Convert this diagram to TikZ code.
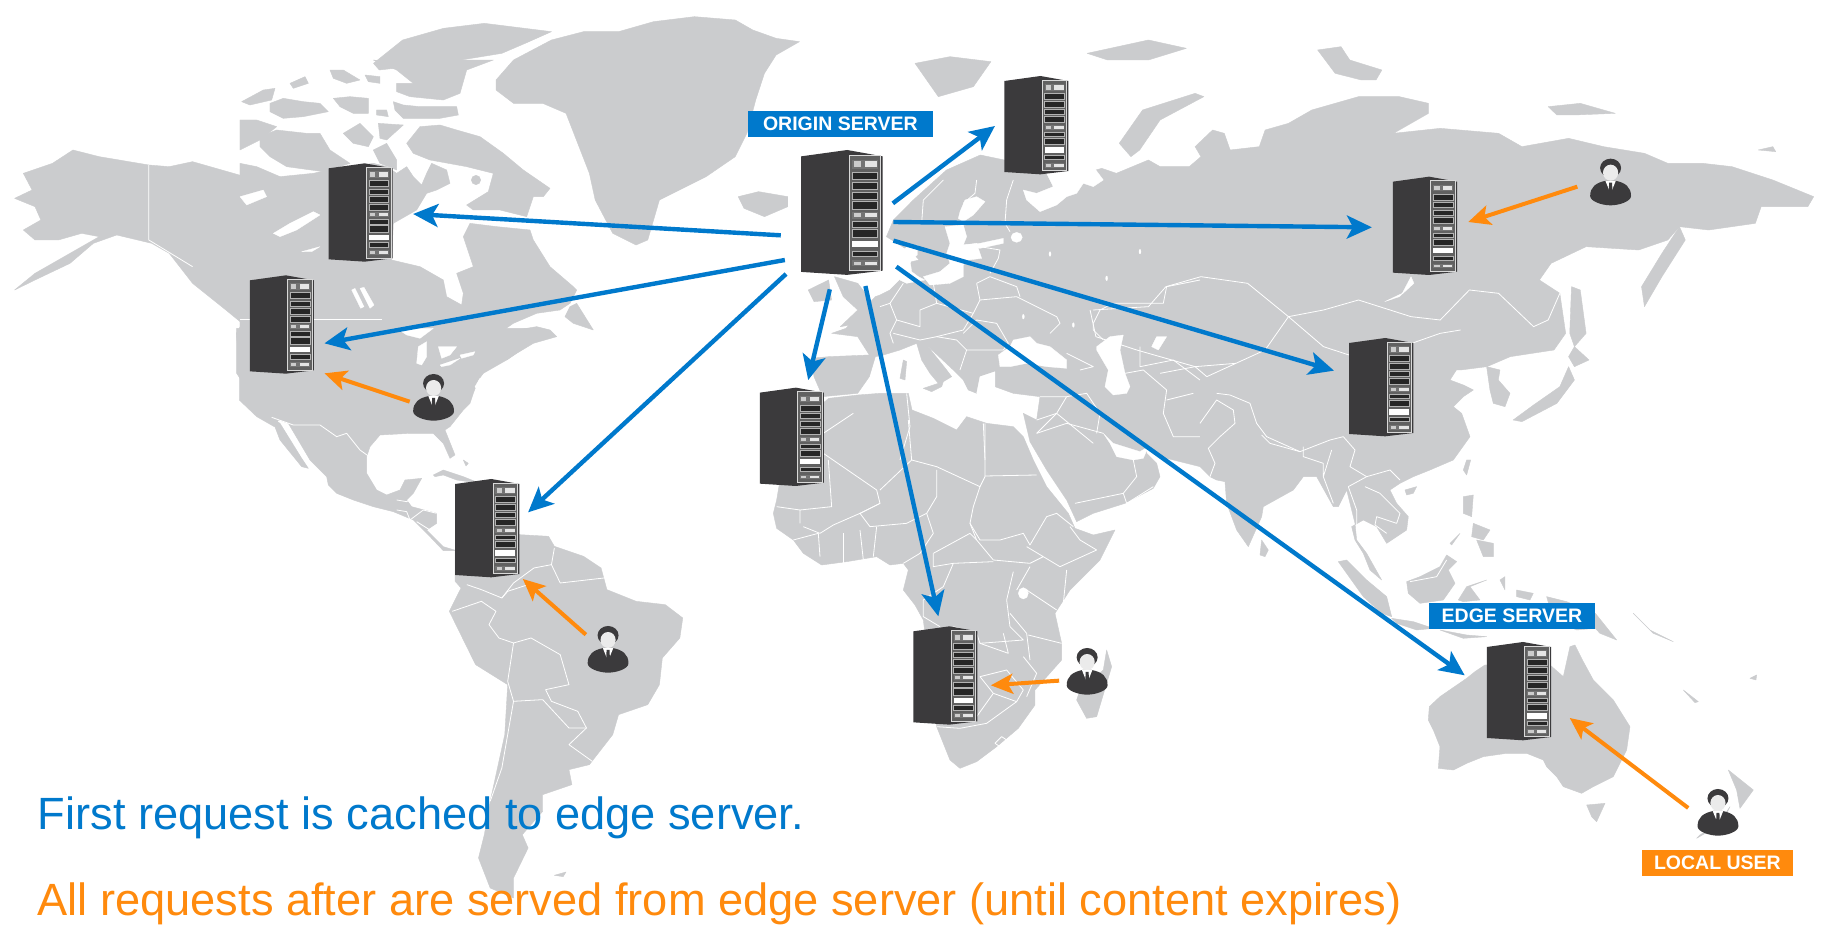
\documentclass[tikz,border=0pt]{standalone}
\usepackage{fontspec}
\setmainfont{Liberation Sans}
\usetikzlibrary{arrows.meta}
\definecolor{landgray}{HTML}{CBCCCE}
\definecolor{srvdark}{HTML}{3B3A3C}
\definecolor{cdnblue}{HTML}{0079CC}
\definecolor{cdnorange}{HTML}{FF8A0D}
\tikzset{
  land/.style={fill=landgray,draw=landgray,line width=0.4pt,line join=round},
  sea/.style={fill=white,draw=white,line width=0.3pt,line join=round},
  border/.style={draw=white,line width=0.8pt,line join=round},
  cropA/.style={x=0.33333pt,y=-0.33333pt,shift={(880pt,-180pt)}},
  cropB/.style={x=0.33333pt,y=-0.33333pt,shift={(760pt,-400pt)}},
  cropC/.style={x=0.33333pt,y=-0.33333pt,shift={(1200pt,-380pt)}},
  cropD/.style={x=0.33333pt,y=-0.33333pt,shift={(1400pt,-590pt)}},
  cropE/.style={x=0.33333pt,y=-0.33333pt,shift={(240pt,-60pt)}},
  cropF/.style={x=0.33333pt,y=-0.33333pt,shift={(230pt,-330pt)}},
  originarrow/.style={draw=cdnblue,line width=4.4pt,-{Stealth[length=25pt,width=23pt,inset=6pt]}},
  userarrow/.style={draw=cdnorange,line width=4pt,-{Stealth[length=22pt,width=20pt,inset=5pt]}},
  tagbox/.style={text=white,font=\fontsize{19.5}{21}\selectfont\bfseries,minimum height=26pt,inner sep=0pt},
  bluetag/.style={tagbox,fill=cdnblue},
  orangetag/.style={tagbox,fill=cdnorange},
  caption/.style={font=\fontsize{45.2}{50}\selectfont,anchor=base west,inner sep=0pt},
  server/.pic={
    \fill[srvdark] (0,15)--(62,0)--(110,15)--(110,285)--(62,295)--(0,288)--cycle;
    \fill[black!62] (65,12) rectangle (107,284);
    \draw[white!85!black,line width=0.9pt] (65,12) rectangle (107,284);
    \foreach \a/\b in {52/70,77/93,100/116,122/140,169/182,187/206,238/251}
      \filldraw[fill=black!85,draw=white!70!black,line width=0.4pt] (69,\a) rectangle (103,\b);
    \foreach \a/\b in {24/44,147/162,261/275}{
      \fill[black!55] (69,\a) rectangle (103,\b);
      \fill[white!90!black] (86,\a+3) rectangle (102,\b-3);
      \fill[white!80!black] (71,\a+3) rectangle (80,\b-3);
    }
    \fill[white] (69,214) rectangle (103,230);
  },
  person/.pic={
    \fill[srvdark] (-35,112) .. controls (-35,85) and (-25,72) .. (-8,66) -- (8,66) .. controls (25,72) and (35,85) .. (35,112) .. controls (35,128) and (15,140) .. (0,140) .. controls (-15,140) and (-35,128) .. (-35,112) -- cycle;
    \fill[srvdark] (0,28) ellipse [x radius=18,y radius=28];
    \fill[white!92!black] (0,42) ellipse [x radius=13,y radius=24];
    \fill[white] (-9,66) -- (9,66) -- (0,105) -- cycle;
    \fill[srvdark] (-2.5,72) -- (2.5,72) -- (3.5,110) -- (0,120) -- (-3.5,110) -- cycle;
  }
}
\begin{document}
\begin{tikzpicture}[x=0.58355pt,y=-0.33333pt]
\useasboundingbox (0,0) rectangle (3136,2808);
\fill[white] (0,0) rectangle (3136,2808);
% --- Alaska and western North America
\fill[land] plot coordinates {(25,595)(55,570)(40,520)(90,490)(125,450)(170,470)(255,495)(290,500)(330,485)(380,510)(440,540)(600,700)(600,1100)(500,1200)(470,1280)(440,1250)(410,1200)(410,1100)(405,1000)(415,970)(380,920)(330,850)(290,760)(260,730)(200,705)(160,730)(120,790)(60,840)(25,870)(60,820)(110,770)(170,710)(140,700)(100,720)(60,720)(40,690)(70,660)(60,620)} -- cycle;
\fill[land] plot coordinates {(850,240)(880,180)(945,120)(1000,95)(1060,95)(1120,65)(1190,50)(1260,60)(1290,90)(1330,115)(1370,125)(1330,165)(1310,220)(1295,300)(1280,400)(1260,470)(1210,530)(1130,600)(1110,720)(1090,735)(1050,700)(1020,600)(1010,520)(990,430)(970,340)(930,310)(880,310)(850,270)} -- cycle;
\fill[land] plot coordinates {(640,190)(690,120)(760,85)(830,70)(945,95)(900,130)(860,160)(790,180)(750,190)(700,200)(650,210)} -- cycle;
\fill[land] plot coordinates {(1265,590)(1300,575)(1350,590)(1350,620)(1310,650)(1275,625)} -- cycle;
\draw[border] plot coordinates {(255,495)(255,720)(330,800)};
% --- Canada
\begin{scope}[cropE]
\fill[land] plot coordinates {(0,310)(50,320)(120,350)(220,340)(265,330)(400,310)(440,320)(470,340)(500,320)(520,350)(545,375)(560,340)(575,310)(620,330)(630,370)(590,390)(560,400)(530,450)(460,490)(455,600)(540,620)(610,660)(620,710)(665,735)(670,700)(650,640)(700,620)(680,560)(670,530)(690,490)(770,500)(870,510)(880,540)(930,620)(1000,680)(1010,690)(990,730)(960,750)(890,760)(820,790)(720,860)(720,900)(0,900)} -- cycle;
\fill[land] plot coordinates {(500,250)(540,200)(600,195)(650,210)(720,230)(790,280)(850,330)(930,385)(910,410)(880,410)(860,470)(780,450)(700,450)(680,435)(745,395)(760,340)(680,320)(570,300)(520,280)} -- cycle;
\fill[land] (708,360) circle [radius=14];
\fill[land] plot coordinates {(990,740)(1010,730)(1060,810)(1000,790)(975,770)} -- cycle;
\fill[land] plot coordinates {(780,860)(830,810)(890,800)(930,810)(950,830)(880,850)(830,880)(800,900)} -- cycle;
\fill[land] plot coordinates {(60,230)(110,210)(200,220)(240,220)(270,270)(330,310)(250,335)(140,320)(90,290)(60,260)} -- cycle;
\fill[land] plot coordinates {(0,180)(50,180)(110,200)(60,240)(0,270)} -- cycle;
\fill[land] plot coordinates {(310,220)(360,190)(400,230)(385,260)(340,250)} -- cycle;
\fill[land] plot coordinates {(415,190)(490,195)(440,240)(420,235)} -- cycle;
\fill[land] plot coordinates {(400,270)(440,250)(470,300)(470,330)(420,310)} -- cycle;
\fill[land] plot coordinates {(5,125)(70,90)(105,85)(95,120)(30,135)} -- cycle;
\fill[land] plot coordinates {(90,130)(130,115)(190,125)(240,130)(265,155)(190,170)(130,175)(90,155)} -- cycle;
\fill[land] plot coordinates {(280,115)(330,110)(385,115)(385,160)(340,160)(300,140)} -- cycle;
\fill[land] plot coordinates {(410,150)(440,150)(445,170)(410,165)} -- cycle;
\fill[land] plot coordinates {(460,125)(490,135)(540,140)(650,140)(655,165)(600,175)(490,175)(465,150)} -- cycle;
\fill[land] plot coordinates {(270,30)(310,30)(360,60)(320,70)(280,55)} -- cycle;
\fill[land] plot coordinates {(375,45)(420,50)(420,70)(385,65)} -- cycle;
\fill[land] plot coordinates {(400,0)(480,10)(530,0)(760,0)(680,30)(660,100)(610,120)(510,110)(470,95)(470,70)(520,70)(470,30)} -- cycle;
\fill[land] plot coordinates {(150,70)(195,50)(205,70)(160,85)} -- cycle;
\fill[sea] plot coordinates {(100,520)(150,490)(220,455)(240,465)(170,510)(120,530)} -- cycle;
\fill[sea] plot coordinates {(0,410)(70,390)(80,410)(20,435)} -- cycle;
\fill[sea] plot coordinates {(185,575)(240,560)(215,575)} -- cycle;
\fill[sea] plot coordinates {(335,690)(345,685)(372,740)(362,745)} -- cycle;
\fill[sea] plot coordinates {(360,685)(372,682)(402,735)(390,745)} -- cycle;
\draw[border] (0,778) -- (425,778);
\end{scope}
% --- USA, Mexico, Central America
\begin{scope}[cropF]
\fill[land] plot coordinates {(20,-5)(900,-5)(900,40)(830,90)(760,130)(745,150)(730,190)(720,220)(700,240)(660,290)(645,300)(675,375)(660,385)(640,340)(610,310)(540,310)(450,315)(420,350)(410,380)(410,430)(440,480)(470,495)(510,480)(525,450)(575,445)(550,490)(530,510)(545,530)(620,550)(620,580)(590,600)(640,650)(680,662)(640,662)(600,620)(550,570)(490,545)(430,530)(370,510)(320,490)(295,465)(290,440)(240,390)(175,280)(120,260)(60,190)(20,130)} -- cycle;
\fill[land] plot coordinates {(125,265)(150,280)(215,385)(235,415)(215,410)(150,330)} -- cycle;
\fill[land] plot coordinates {(610,435)(640,420)(700,440)(750,460)(680,450)(640,435)(615,440)} -- cycle;
\fill[land] plot coordinates {(700,390)(715,400)(708,408)} -- cycle;
\fill[sea] plot coordinates {(560,100)(565,50)(590,35)(590,80)(575,105)} -- cycle;
\fill[sea] plot coordinates {(625,50)(680,50)(660,75)(635,85)} -- cycle;
\fill[sea] plot coordinates {(630,105)(690,85)(660,105)(635,110)} -- cycle;
\fill[sea] plot coordinates {(690,75)(735,65)(730,75)(695,85)} -- cycle;
\fill[sea] plot coordinates {(500,-5)(610,-5)(570,25)(530,15)} -- cycle;
\fill[sea] plot coordinates {(735,170)(750,145)(745,185)} -- cycle;
\draw[border] plot coordinates {(125,262)(190,285)(270,285)(320,320)(350,310)(390,360)(415,378)};
\draw[border] plot coordinates {(500,510)(530,515)(555,500)};
\draw[border] plot coordinates {(500,540)(530,545)(540,570)(580,540)(620,550)};
\draw[border] plot coordinates {(560,575)(600,600)};
\end{scope}
% --- South America (lower-left crop)
\begin{scope}[shift={(0,1404)}]
\fill[land] plot coordinates {(780,245)(830,205)(890,200)(940,205)(950,235)(1000,265)(1030,300)(1040,365)(1090,400)(1140,410)(1170,450)(1165,510)(1135,570)(1130,650)(1110,710)(1060,740)(1050,800)(1010,890)(975,905)(980,950)(930,980)(930,1030)(895,1100)(905,1140)(880,1230)(880,1290)(840,1260)(820,1170)(830,1100)(840,1000)(865,800)(870,650)(815,590)(770,430)(790,360)(780,340)} -- cycle;
\fill[land] plot coordinates {(950,1222)(970,1212)(965,1226)} -- cycle;
\draw[border] plot coordinates {(775,430)(825,400)(850,430)(838,470)(855,510)(880,525)(910,510)(960,560)(975,650)(935,665)(945,700)(990,730)(1005,780)(975,830)(1015,880)};
\draw[border] plot coordinates {(880,525)(870,640)(880,700)(860,900)(840,1000)};
\draw[border] plot coordinates {(880,700)(930,695)(975,780)(1005,780)};
\draw[border] plot coordinates {(905,350)(870,370)(860,390)(825,365)(800,350)};
\draw[border] plot coordinates {(950,240)(945,290)(915,300)(880,345)(860,390)};
\draw[border] plot coordinates {(945,290)(960,345)(1035,330)};
\end{scope}
% --- Northern Eurasia
\fill[land] plot coordinates {(1519,710)(1531,660)(1565,600)(1622,510)(1680,465)(1721,480)(1760,510)(1830,525)(1858,520)(1888,505)(1913,520)(1968,480)(1988,500)(2038,500)(2058,470)(2048,440)(2078,390)(2098,400)(2108,450)(2158,440)(2168,390)(2208,370)(2248,330)(2328,290)(2398,290)(2448,310)(2448,340)(2388,400)(2468,385)(2568,400)(2608,440)(2688,415)(2748,440)(2818,460)(2858,490)(2918,490)(2968,500)(3038,540)(3108,590)(3098,620)(3018,620)(3008,670)(2928,690)(2878,680)(2858,720)(2808,750)(2718,740)(2658,790)(2638,840)(2673,880)(2683,1000)(2663,1050)(2588,1070)(2548,1100)(2503,1110)(2000,1110)(1700,1000)(1590,860)(1585,800)(1565,760)} -- cycle;
\fill[land] plot coordinates {(1430,830)(1470,850)(1500,920)(1510,960)(1440,980)(1470,930)(1445,890)} -- cycle;
\fill[land] plot coordinates {(1385,870)(1420,840)(1425,900)(1395,905)} -- cycle;
% --- Europe and Near East
\begin{scope}[cropA]
\fill[land] plot coordinates {(95,245)(75,270)(80,295)(60,300)(30,330)(0,345)(-14,350)(-102,445)(-145,460)(-67,470)(-32,525)(-154,530)(-207,535)(-198,590)(-172,650)(-67,640)(-32,590)(-14,530)(10,525)(60,510)(110,490)(125,540)(150,580)(175,610)(130,625)(155,635)(185,620)(190,605)(215,590)(200,570)(140,495)(220,570)(250,600)(265,630)(290,640)(300,590)(345,575)(345,620)(400,640)(480,650)(470,720)(600,720)(960,640)(960,300)(300,200)} -- cycle;
\fill[land] plot coordinates {(70,540)(80,545)(75,600)(60,595)} -- cycle;
\end{scope}
% --- Africa and Arabia
\begin{scope}[cropB]
\fill[land] plot coordinates {(206,-5)(294,-15)(360,-20)(445,-20)(456,30)(520,55)(590,90)(620,50)(680,70)(760,80)(790,110)(820,180)(860,260)(925,340)(945,385)(1000,405)(1065,390)(1020,480)(930,570)(885,640)(905,730)(905,780)(825,870)(825,915)(775,985)(710,1040)(650,1085)(600,1105)(570,1080)(530,980)(490,660)(465,615)(430,570)(445,510)(430,490)(390,495)(350,470)(260,485)(185,495)(130,460)(100,420)(50,385)(40,340)(50,300)(84,100)} -- cycle;
\fill[land] plot coordinates {(1040,750)(1055,800)(1010,950)(980,955)(950,900)(960,870)(1030,810)} -- cycle;
\fill[land] plot coordinates {(790,40)(830,60)(1000,0)(1140,50)(1160,160)(1190,190)(1200,230)(1180,265)(1095,310)(1000,340)(950,365)(920,300)(860,210)(810,125)} -- cycle;
\fill[land] plot coordinates {(1000,-100)(1000,0)(1030,100)(1060,110)(1140,140)(1165,140)(1200,170)(1320,200)(1400,200)(1400,-100)} -- cycle;
\end{scope}
% --- Southern and eastern Asia, Indonesia
\begin{scope}[cropC]
\fill[land] plot coordinates {(0,-50)(782,-50)(750,0)(790,15)(820,30)(790,50)(760,80)(785,100)(810,170)(760,240)(690,270)(640,290)(600,310)(570,330)(590,370)(625,410)(620,450)(560,490)(530,440)(490,420)(455,440)(465,480)(490,520)(510,570)(545,600)(500,520)(470,480)(465,430)(440,330)(415,380)(400,380)(350,290)(310,290)(280,330)(190,380)(185,410)(145,500)(110,450)(80,370)(75,305)(50,300)(30,290)(0,260)} -- cycle;
\fill[land] plot coordinates {(860,-40)(900,-30)(895,0)(930,40)(915,80)(880,70)(870,30)} -- cycle;
\fill[land] plot coordinates {(615,330)(650,320)(640,340)(620,345)} -- cycle;
\fill[land] plot coordinates {(800,240)(812,240)(800,285)(790,270)} -- cycle;
\fill[land] plot coordinates {(185,480)(205,510)(195,530)(180,525)} -- cycle;
\fill[land] plot coordinates {(790,350)(820,345)(815,410)(790,400)} -- cycle;
\fill[land] plot coordinates {(830,480)(880,490)(880,530)(850,530)} -- cycle;
\fill[land] plot coordinates {(820,430)(870,450)(850,480)(815,470)} -- cycle;
\fill[land] plot coordinates {(750,490)(780,460)(755,495)} -- cycle;
\fill[land] plot coordinates {(620,605)(660,590)(720,560)(740,525)(770,545)(745,570)(765,610)(730,660)(660,670)(625,640)} -- cycle;
\fill[land] plot coordinates {(415,545)(440,540)(500,600)(560,650)(575,710)(545,700)(490,650)} -- cycle;
\fill[land] plot coordinates {(575,715)(640,725)(700,745)(650,750)(590,730)} -- cycle;
\fill[land] plot coordinates {(775,660)(800,620)(860,600)(810,620)(840,660)(790,665)} -- cycle;
\fill[land] plot coordinates {(720,750)(800,765)(860,770)(790,775)} -- cycle;
\fill[land] plot coordinates {(1040,650)(1100,665)(1186,700)(1250,780)(1200,760)(1186,745)(1130,750)(1060,720)} -- cycle;
\fill[land] plot coordinates {(950,630)(1000,640)(990,660)(950,650)} -- cycle;
\fill[land] plot coordinates {(900,600)(915,590)(915,630)} -- cycle;
\end{scope}
% --- Australia and New Zealand
\begin{scope}[cropD]
\fill[land] plot coordinates {(88,350)(120,320)(200,265)(225,245)(255,225)(450,225)(490,260)(510,170)(525,165)(550,215)(580,270)(640,330)(690,410)(680,480)(640,560)(580,590)(545,610)(490,590)(470,560)(440,530)(430,510)(380,490)(320,490)(250,500)(200,520)(160,540)(115,535)(120,470)(100,420)(85,390)} -- cycle;
\fill[land] plot coordinates {(560,645)(615,640)(590,695)(575,680)} -- cycle;
\fill[land] plot coordinates {(985,540)(1060,600)(1020,655)(1010,600)} -- cycle;
\fill[land] plot coordinates {(990,650)(970,690)(900,735)(890,745)(950,710)} -- cycle;
\fill[land] plot coordinates {(850,300)(895,335)(885,338)} -- cycle;
\fill[land] plot coordinates {(1050,265)(1070,255)(1068,270)} -- cycle;
\fill[land] plot coordinates {(700,70)(760,130)(820,155)(750,120)} -- cycle;
\end{scope}
% --- Seas on the land
\begin{scope}[cropA]
\fill[sea] plot coordinates {(255,60)(290,50)(315,65)(280,105)(250,125)(235,115)(240,95)} -- cycle;
\fill[sea] plot coordinates {(195,140)(250,135)(260,170)(250,195)(290,190)(305,235)(265,240)(250,255)(250,290)(210,310)(150,315)(130,290)(180,275)(210,250)(200,220)(210,190)} -- cycle;
\fill[sea] plot coordinates {(250,195)(300,190)(370,175)(370,190)(300,205)} -- cycle;
\fill[sea] (410,172) ellipse [x radius=17,y radius=15];
\fill[sea] plot coordinates {(430,30)(440,60)(480,95)(530,75)(560,50)(590,40)(610,10)(640,20)(670,0)(640,-40)(540,-40)(500,-20)(520,20)(470,40)} -- cycle;
\fill[sea] plot coordinates {(55,232)(80,200)(112,195)(112,225)(90,240)(95,275)(115,290)(135,300)(80,310)(60,300)} -- cycle;
\fill[sea] plot coordinates {(355,525)(390,500)(400,480)(450,470)(470,490)(510,500)(560,540)(560,565)(500,560)(440,550)(390,560)(360,560)} -- cycle;
\fill[sea] plot coordinates {(650,500)(690,470)(730,465)(720,510)(735,580)(750,620)(740,640)(700,645)(675,620)(685,570)(650,510)} -- cycle;
\fill[sea] plot coordinates {(815,500)(830,470)(860,470)(835,510)} -- cycle;
\fill[sea] plot coordinates {(290,640)(300,590)(345,575)(345,620)(330,650)} -- cycle;
\foreach \p/\q in {510/222,780/215,680/295,580/435,430/410}
  \fill[sea] (\p,\q) ellipse [x radius=3,y radius=7];
\end{scope}
\begin{scope}[cropB]
\fill[sea] plot coordinates {(1030,100)(1060,130)(1140,155)(1165,140)(1150,175)(1120,180)(1070,170)(1050,130)} -- cycle;
\fill[sea] (790,580) ellipse [x radius=15,y radius=17];
\end{scope}
% --- Country borders
\begin{scope}[cropA]
\draw[border] plot coordinates {(125,130)(130,60)(190,0)};
\draw[border] plot coordinates {(290,0)(285,40)(250,70)};
\draw[border] plot coordinates {(400,0)(380,60)(375,130)(390,155)};
\draw[border] plot coordinates {(300,200)(360,210)(355,235)(330,280)};
\draw[border] plot coordinates {(290,310)(330,290)(410,320)(420,350)};
\draw[border] plot coordinates {(300,360)(410,350)(450,370)(530,410)(540,430)(510,460)};
\draw[border] plot coordinates {(160,310)(170,370)(280,400)(300,360)(290,310)};
\draw[border] plot coordinates {(70,310)(30,370)(50,420)(120,440)(120,390)(170,370)};
\draw[border] plot coordinates {(30,370)(0,380)};
\draw[border] plot coordinates {(50,420)(30,460)(40,490)};
\draw[border] plot coordinates {(250,460)(290,420)(350,430)(385,490)(370,510)(260,510)};
\draw[border] plot coordinates {(170,470)(230,480)(260,510)(240,570)};
\draw[border] plot coordinates {(40,460)(120,480)(170,470)(250,450)(280,400)};
\draw[border] plot coordinates {(560,520)(640,560)(600,570)};
\draw[border] plot coordinates {(640,430)(660,390)(700,370)(850,370)(860,320)(960,300)};
\draw[border] plot coordinates {(640,430)(640,450)(670,480)};
\draw[border] plot coordinates {(735,580)(790,570)(860,630)(850,700)(880,770)(960,770)};
\draw[border] plot coordinates {(560,650)(620,640)(660,700)(650,760)};
\draw[border] plot coordinates {(480,650)(560,650)(530,700)(470,720)};
\draw[border] plot coordinates {(860,660)(940,640)};
\draw[border] plot coordinates {(780,500)(780,560)(880,540)(960,600)};
\draw[border] plot coordinates {(80,640)(90,740)(60,840)};
\draw[border] plot coordinates {(310,730)(315,840)};
\draw[border] plot coordinates {(470,760)(530,700)(640,790)};
\end{scope}
\begin{scope}[cropB]
\draw[border] plot coordinates {(190,100)(280,40)};
\draw[border] plot coordinates {(190,160)(350,270)(360,310)(300,340)(220,375)(180,400)(130,380)};
\draw[border] plot coordinates {(205,180)(215,320)(120,330)(120,370)};
\draw[border] plot coordinates {(50,320)(120,330)};
\draw[border] plot coordinates {(445,60)(455,180)(360,270)};
\draw[border] plot coordinates {(455,180)(530,200)(660,260)(640,320)(630,370)(650,420)};
\draw[border] plot coordinates {(675,70)(675,230)(660,260)};
\draw[border] plot coordinates {(675,228)(830,225)};
\draw[border] plot coordinates {(360,310)(300,340)(330,380)(440,370)(500,340)(530,290)(530,210)};
\draw[border] plot coordinates {(630,370)(660,420)(720,420)(790,400)(810,435)(860,350)(890,340)(940,380)};
\draw[border] plot coordinates {(650,420)(700,480)(810,490)(850,470)(800,440)};
\draw[border] plot coordinates {(850,470)(900,500)(1010,450)(960,420)(930,380)};
\draw[border] plot coordinates {(520,460)(630,400)(650,420)};
\draw[border] plot coordinates {(520,460)(520,500)(580,490)(700,485)};
\draw[border] plot coordinates {(500,340)(520,400)(480,460)(430,490)};
\draw[border] plot coordinates {(760,515)(740,600)(750,680)(790,720)(660,730)(650,700)(580,680)};
\draw[border] plot coordinates {(580,490)(550,560)(490,600)(490,650)(540,680)};
\draw[border] plot coordinates {(810,500)(770,570)};
\draw[border] plot coordinates {(800,570)(890,630)};
\draw[border] plot coordinates {(750,640)(800,700)(810,780)};
\draw[border] plot coordinates {(920,510)(910,610)};
\draw[border] plot coordinates {(660,730)(745,760)(730,700)};
\draw[border] plot coordinates {(805,705)(905,730)};
\draw[border] plot coordinates {(790,770)(830,820)(800,890)};
\draw[border] plot coordinates {(660,830)(700,880)(770,905)(790,870)(740,810)(660,830)};
\draw[border] plot coordinates {(650,950)(700,880)};
\draw[border] plot coordinates {(600,985)(530,980)};
\draw[border] plot coordinates {(600,985)(680,970)(770,905)};
\draw[border] plot coordinates {(705,1030)(725,1010)(740,1020)(720,1040)(705,1030)};
\draw[border] plot coordinates {(100,420)(175,400)(180,470)};
\draw[border] plot coordinates {(250,400)(250,490)};
\draw[border] plot coordinates {(300,390)(310,480)};
\draw[border] plot coordinates {(350,380)(340,470)};
\draw[border] plot coordinates {(830,100)(920,70)(1030,100)};
\draw[border] plot coordinates {(945,310)(1090,280)(1130,230)(1120,180)};
\draw[border] plot coordinates {(1090,280)(1100,310)(1180,260)};
\end{scope}
\begin{scope}[shift={(1568,0)}]
\fill[land] plot coordinates {(0,190)(60,170)(130,185)(100,260)(40,290)} -- cycle;
\fill[land] plot coordinates {(350,430)(390,330)(480,280)(495,290)(420,360)(385,450)(370,470)} -- cycle;
\fill[land] plot coordinates {(295,160)(400,120)(465,145)(400,180)(330,180)} -- cycle;
\fill[land] plot coordinates {(690,150)(730,140)(745,180)(800,210)(790,240)(765,240)(720,220)} -- cycle;
\fill[land] plot coordinates {(1085,320)(1140,310)(1200,340)(1130,345)(1100,345)} -- cycle;
\fill[land] plot coordinates {(1445,450)(1470,440)(1475,455)} -- cycle;
\fill[land] plot coordinates {(1310,680)(1320,720)(1280,830)(1250,920)(1245,860)(1280,760)} -- cycle;
\fill[land] plot coordinates {(1125,860)(1140,870)(1150,1000)(1130,1040)(1122,1000)} -- cycle;
\fill[land] plot coordinates {(1120,1100)(1130,1140)(1100,1210)(1040,1265)(1025,1260)(1060,1215)(1105,1160)} -- cycle;
\fill[land] plot coordinates {(1130,1040)(1155,1080)(1130,1100)(1120,1070)} -- cycle;
\fill[sea] plot coordinates {(850,830)(835,880)(805,905)(830,890)(855,850)} -- cycle;
\draw[border] plot coordinates {(430,860)(490,830)(570,850)(640,950)(700,930)(760,900)(850,950)(900,960)(950,870)(1000,880)(1060,980)(1085,960)(1105,880)};
\draw[border] plot coordinates {(640,950)(700,1040)(770,1080)(900,1000)(935,990)};
\draw[border] plot coordinates {(305,930)(400,920)(430,860)};
\draw[border] plot coordinates {(300,930)(310,1010)(380,1050)(480,1100)(550,1090)(600,1050)(640,950)};
\draw[border] plot coordinates {(420,1120)(480,1100)(500,1130)(550,1090)};
\end{scope}
\begin{scope}[cropC]
\draw[border] plot coordinates {(0,130)(50,60)(100,90)(105,130)(60,170)(25,205)(45,250)(30,290)};
\draw[border] plot coordinates {(50,40)(90,45)(150,70)(170,130)(200,170)(300,215)(390,180)(430,170)(465,210)(450,260)(500,290)};
\draw[border] plot coordinates {(185,165)(210,190)(300,215)};
\draw[border] plot coordinates {(310,200)(310,230)(370,250)(370,290)(395,210)};
\draw[border] plot coordinates {(370,290)(400,370)};
\draw[border] plot coordinates {(445,320)(500,290)(570,270)(600,300)};
\draw[border] plot coordinates {(445,320)(470,390)(470,440)};
\draw[border] plot coordinates {(495,320)(540,340)(600,400)(590,430)(530,410)(525,435)(560,460)};
\draw[border] plot coordinates {(630,605)(710,590)(740,540)};
\end{scope}
% --- Tags
\node[bluetag,minimum width=185pt] (origintag) at (1440,372) {ORIGIN SERVER};
\node[bluetag,minimum width=166pt] (edgetag) at (2591,1848) {EDGE SERVER};
\node[orangetag,minimum width=151pt] (usertag) at (2943,2589) {LOCAL USER};
% --- Servers
\pic (origin) [scale=1.27] at (1373,450) {server};
\pic (canada) at (563,490) {server};
\pic (usw) at (428,826) {server};
\pic (wafrica) at (1302,1163) {server};
\pic (nordic) at (1721,228) {server};
\pic (russia) at (2387,530) {server};
\pic (china) at (2312,1014) {server};
\pic (samerica) at (780,1437) {server};
\pic (safrica) at (1565,1879) {server};
\pic (australia) at (2548,1926) {server};
% --- Users
\pic (uusa) at (743,1122) {person};
\pic (urussia) at (2760,476) {person};
\pic (ubrazil) at (1042,1878) {person};
\pic (uafrica) at (1863,1944) {person};
\pic (uaus) at (2944,2367) {person};
% --- Connector ends
\coordinate (o1) at (1338,706); \coordinate (t1) at (708,642);
\coordinate (o2) at (1345,780); \coordinate (t2) at (556,1030);
\coordinate (o3) at (1347,822); \coordinate (t3) at (905,1537);
\coordinate (o4) at (1422,868); \coordinate (t4) at (1385,1140);
\coordinate (o5) at (1483,858); \coordinate (t5) at (1608,1849);
\coordinate (o6) at (1536,800); \coordinate (t6) at (2510,2026);
\coordinate (o7) at (1531,722); \coordinate (t7) at (2286,1112);
\coordinate (o8) at (1531,666); \coordinate (t8) at (2351,682);
\coordinate (o9) at (1530,610); \coordinate (t9) at (1705,378);
\coordinate (ua) at (2703,560); \coordinate (sa) at (2516,666);
\coordinate (ub) at (702,1205); \coordinate (sb) at (556,1120);
\coordinate (uc) at (1004,1904); \coordinate (sc) at (896,1737);
\coordinate (ud) at (1815,2042); \coordinate (sd) at (1698,2056);
\coordinate (ue) at (2893,2424); \coordinate (se) at (2690,2154);
\foreach \i in {1,...,9} \draw[originarrow] (o\i) -- (t\i);
\foreach \i in {a,b,c,d,e} \draw[userarrow] (u\i) -- (s\i);
% --- Captions
\node[caption,text=cdnblue] (cap1) at (64.5,2488) {First request is cached to edge server.};
\node[caption,text=cdnorange] (cap2) at (64,2746) {All requests after are served from edge server (until content expires)};
\end{tikzpicture}
\end{document}
